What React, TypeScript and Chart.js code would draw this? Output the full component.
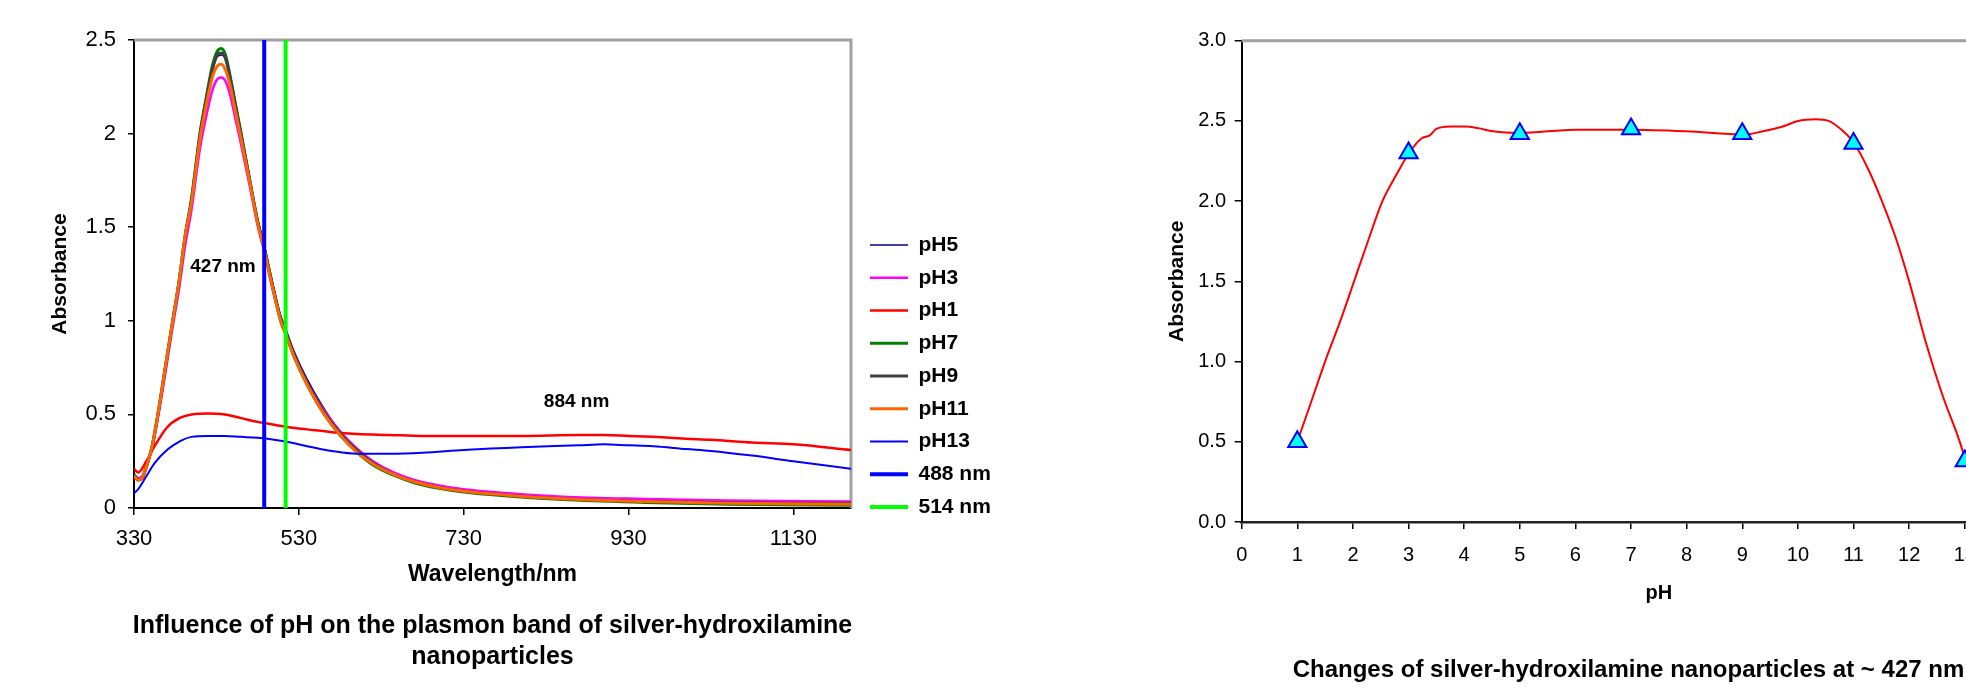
import React, { useEffect, useRef } from 'react';
import { Chart, registerables } from 'chart.js';

Chart.register(...registerables);

const FAMILY = '"Liberation Sans", Arial, Helvetica, sans-serif';

// ---------- Left chart: spectra ----------
const peakWavelengths = [330, 335, 340, 345, 352, 359, 368, 377, 385, 392, 400, 410, 418, 425, 431, 436, 441, 447, 453, 460, 470, 480, 488, 497, 508, 514, 525, 540, 561, 580, 600, 620, 645, 670, 700, 730, 780, 850, 950, 1050, 1200];
const absPH5 = [0.17, 0.15, 0.16, 0.22, 0.33, 0.5, 0.74, 0.99, 1.21, 1.44, 1.64, 1.98, 2.18, 2.33, 2.41, 2.42, 2.4, 2.3, 2.17, 2.01, 1.78, 1.55, 1.41, 1.23, 1.03, 0.96, 0.83, 0.69, 0.53, 0.41, 0.32, 0.245, 0.185, 0.145, 0.115, 0.095, 0.075, 0.055, 0.04, 0.03, 0.027];
const absPH3 = [0.18, 0.16, 0.17, 0.22, 0.32, 0.48, 0.72, 0.97, 1.18, 1.4, 1.6, 1.92, 2.1, 2.23, 2.29, 2.3, 2.28, 2.2, 2.08, 1.94, 1.73, 1.51, 1.37, 1.19, 1.0, 0.93, 0.81, 0.67, 0.52, 0.41, 0.32, 0.25, 0.19, 0.15, 0.12, 0.1, 0.08, 0.06, 0.048, 0.04, 0.035];
const absPH7 = [0.18, 0.15, 0.16, 0.22, 0.33, 0.5, 0.75, 1.0, 1.22, 1.45, 1.66, 2.0, 2.2, 2.36, 2.44, 2.455, 2.42, 2.3, 2.16, 2.0, 1.76, 1.53, 1.39, 1.21, 1.0, 0.93, 0.8, 0.66, 0.5, 0.39, 0.3, 0.23, 0.175, 0.135, 0.105, 0.085, 0.065, 0.045, 0.03, 0.02, 0.015];
const absPH9 = [0.17, 0.15, 0.16, 0.22, 0.33, 0.5, 0.75, 1.0, 1.22, 1.45, 1.65, 1.99, 2.19, 2.34, 2.42, 2.43, 2.4, 2.29, 2.15, 1.99, 1.76, 1.53, 1.39, 1.21, 1.01, 0.94, 0.81, 0.67, 0.51, 0.4, 0.31, 0.24, 0.18, 0.14, 0.11, 0.09, 0.07, 0.05, 0.035, 0.028, 0.025];
const absPH11 = [0.17, 0.15, 0.16, 0.22, 0.33, 0.5, 0.75, 1.0, 1.22, 1.45, 1.64, 1.97, 2.16, 2.3, 2.36, 2.37, 2.34, 2.25, 2.12, 1.97, 1.75, 1.52, 1.38, 1.2, 1.0, 0.93, 0.8, 0.66, 0.5, 0.39, 0.3, 0.235, 0.18, 0.14, 0.11, 0.09, 0.07, 0.05, 0.035, 0.025, 0.02];

const broadWavelengths = [330, 335, 345, 355, 370, 385, 400, 420, 440, 460, 480, 500, 520, 540, 570, 600, 640, 680, 730, 800, 870, 900, 930, 960, 1000, 1030, 1080, 1130, 1200];
const absPH1 = [0.21, 0.19, 0.25, 0.33, 0.43, 0.48, 0.5, 0.505, 0.5, 0.48, 0.46, 0.445, 0.43, 0.42, 0.405, 0.395, 0.39, 0.385, 0.385, 0.385, 0.39, 0.39, 0.385, 0.38, 0.37, 0.365, 0.35, 0.34, 0.31];
const absPH13 = [0.08, 0.1, 0.17, 0.24, 0.31, 0.355, 0.38, 0.385, 0.385, 0.38, 0.375, 0.365, 0.35, 0.33, 0.305, 0.29, 0.29, 0.295, 0.31, 0.325, 0.335, 0.34, 0.335, 0.33, 0.315, 0.305, 0.28, 0.25, 0.21];

const laserWavelengths = [488, 514];
const laserSpan = [0, 2.5];
const wavelengthTicks = [330, 530, 730, 930, 1130];

// ---------- Right chart: absorbance vs pH ----------
const phValues = [1, 3, 5, 7, 9, 11, 13];
const absAt427 = [0.5, 2.3, 2.42, 2.45, 2.42, 2.36, 0.38];
const fitPH = [1.0, 1.27, 1.52, 1.77, 2.02, 2.27, 2.53, 2.79, 3.01, 3.23, 3.38, 3.5, 3.75, 4.0, 4.25, 4.52, 5.0, 6.0, 7.0, 8.0, 9.03, 9.37, 9.73, 10.0, 10.32, 10.55, 10.8, 10.99, 11.25, 11.5, 11.76, 12.0, 12.3, 12.6, 12.9, 13.0];
const fitAbs = [0.5, 0.77, 1.02, 1.25, 1.5, 1.75, 2.0, 2.17, 2.3, 2.39, 2.41, 2.45, 2.465, 2.465, 2.455, 2.435, 2.425, 2.445, 2.445, 2.435, 2.415, 2.435, 2.465, 2.5, 2.51, 2.5, 2.44, 2.37, 2.21, 2.01, 1.77, 1.5, 1.12, 0.79, 0.51, 0.4];

const leftNotes = [
  { text: '427 nm', x: 438, y: 1.29 },
  { text: '884 nm', x: 867, y: 0.566 },
];
const leftTitle = ['Influence of pH on the plasmon band of silver-hydroxilamine', 'nanoparticles'];
const rightTitle = 'Changes of silver-hydroxilamine nanoparticles at ~ 427 nm';

const zip = (xs: number[], ys: number[]) => xs.map((x, i) => ({ x, y: ys[i] }));

function buildLeft(canvas: HTMLCanvasElement) {
  const series = [
    { label: 'pH5', xs: peakWavelengths, ys: absPH5, color: '#000080', width: 1.3 },
    { label: 'pH3', xs: peakWavelengths, ys: absPH3, color: '#ff00ff', width: 2.5 },
    { label: 'pH1', xs: broadWavelengths, ys: absPH1, color: '#ff0000', width: 2.5 },
    { label: 'pH7', xs: peakWavelengths, ys: absPH7, color: '#008000', width: 3 },
    { label: 'pH9', xs: peakWavelengths, ys: absPH9, color: '#404040', width: 3 },
    { label: 'pH11', xs: peakWavelengths, ys: absPH11, color: '#ff6600', width: 3 },
    { label: 'pH13', xs: broadWavelengths, ys: absPH13, color: '#0000ff', width: 2 },
  ];
  const laserStyle = [
    { label: '488 nm', color: '#0000ff' },
    { label: '514 nm', color: '#00ff00' },
  ];
  const datasets: any[] = series.map((s) => ({
    label: s.label,
    data: zip(s.xs, s.ys),
    borderColor: s.color,
    backgroundColor: s.color,
    borderWidth: s.width,
    pointRadius: 0,
    fill: false,
    cubicInterpolationMode: 'monotone',
  }));
  laserWavelengths.forEach((w, i) => {
    datasets.push({
      label: laserStyle[i].label,
      data: laserSpan.map((y) => ({ x: w, y })),
      borderColor: laserStyle[i].color,
      backgroundColor: laserStyle[i].color,
      borderWidth: 4,
      pointRadius: 0,
      fill: false,
    });
  });
  const n = datasets.length;
  datasets.forEach((d, i) => (d.order = n - i));

  const decor = {
    id: 'leftDecor',
    afterLayout(chart: any) {
      const lg = chart.legend;
      if (lg) {
        lg.left += 7.25;
        lg.right += 90;
        lg.width = lg.right - lg.left;
        lg.top += 9;
        lg.bottom += 9;
      }
    },
    beforeDatasetsDraw(chart: any) {
      const { ctx, chartArea: a } = chart;
      ctx.save();
      ctx.strokeStyle = '#a0a0a0';
      ctx.lineWidth = 3;
      ctx.beginPath();
      ctx.moveTo(a.left, a.top);
      ctx.lineTo(a.right, a.top);
      ctx.lineTo(a.right, a.bottom);
      ctx.stroke();
      ctx.restore();
    },
    afterDraw(chart: any) {
      const { ctx, chartArea: a, scales } = chart;
      ctx.save();
      ctx.fillStyle = '#000';
      ctx.textAlign = 'center';
      ctx.textBaseline = 'middle';
      ctx.font = `bold 19px ${FAMILY}`;
      leftNotes.forEach((nt) => {
        ctx.fillText(nt.text, scales.x.getPixelForValue(nt.x), scales.y.getPixelForValue(nt.y));
      });
      ctx.font = `bold 25px ${FAMILY}`;
      const cx = (a.left + a.right) / 2;
      leftTitle.forEach((line, i) => ctx.fillText(line, cx, a.bottom + 118 + i * 31));
      ctx.restore();
    },
  };

  return new Chart(canvas, {
    type: 'line',
    data: { datasets },
    options: {
      animation: false,
      responsive: false,
      events: [],
      layout: { padding: { top: 40, right: 39, bottom: 0, left: 0 } },
      scales: {
        x: {
          type: 'linear',
          min: 330,
          max: 1200,
          afterBuildTicks: (s: any) => {
            s.ticks = wavelengthTicks.map((v) => ({ value: v }));
          },
          afterFit: (s: any) => {
            s.height = 186;
          },
          grid: { drawOnChartArea: false, drawTicks: true, tickLength: 7, color: '#000', lineWidth: 1.5 },
          border: { display: true, color: '#000', width: 2 },
          ticks: { color: '#000', font: { size: 22, family: FAMILY }, padding: 11, maxRotation: 0, autoSkip: false, callback: (v: any) => String(v) },
          title: { display: true, text: 'Wavelength/nm', color: '#000', font: { size: 23, weight: 'bold', family: FAMILY }, padding: { top: 0, bottom: 106 } },
        },
        y: {
          type: 'linear',
          min: 0,
          max: 2.5,
          afterFit: (s: any) => {
            s.width = 134;
          },
          grid: { drawOnChartArea: false, drawTicks: true, tickLength: 6, color: '#000', lineWidth: 1.5 },
          border: { display: true, color: '#000', width: 2 },
          ticks: { stepSize: 0.5, color: '#000', font: { size: 22, family: FAMILY }, padding: 12, callback: (v: any) => String(v) },
          title: { display: true, text: 'Absorbance', color: '#000', font: { size: 21, weight: 'bold', family: FAMILY }, padding: { top: 48, bottom: 0 } },
        },
      },
      plugins: {
        tooltip: { enabled: false },
        legend: {
          display: true,
          position: 'right',
          maxWidth: 120,
          labels: {
            usePointStyle: true,
            pointStyle: 'line',
            pointStyleWidth: 38,
            padding: 11.75,
            color: '#000',
            font: { size: 21, weight: 'bold', family: FAMILY },
            sort: (a: any, b: any) => a.datasetIndex - b.datasetIndex,
          },
        },
      },
    } as any,
    plugins: [decor],
  });
}

function buildRight(canvas: HTMLCanvasElement) {
  const decor = {
    id: 'rightDecor',
    beforeDatasetsDraw(chart: any) {
      const { ctx, chartArea: a } = chart;
      ctx.save();
      ctx.strokeStyle = '#a0a0a0';
      ctx.lineWidth = 3;
      ctx.beginPath();
      ctx.moveTo(a.left, a.top);
      ctx.lineTo(a.right, a.top);
      ctx.lineTo(a.right, a.bottom);
      ctx.stroke();
      ctx.restore();
    },
    afterDraw(chart: any) {
      const { ctx, chartArea: a } = chart;
      ctx.save();
      ctx.fillStyle = '#000';
      ctx.textAlign = 'left';
      ctx.textBaseline = 'middle';
      ctx.font = `bold 24px ${FAMILY}`;
      ctx.fillText(rightTitle, a.left + 51, a.bottom + 148);
      ctx.restore();
    },
  };

  return new Chart(canvas, {
    type: 'line',
    data: {
      datasets: [
        {
          label: 'Absorbance at 427 nm',
          data: zip(phValues, absAt427),
          showLine: false,
          pointStyle: 'triangle',
          pointRadius: 10.5,
          pointBackgroundColor: '#00ffff',
          pointBorderColor: '#0000ff',
          pointBorderWidth: 2,
          order: 1,
        },
        {
          label: 'Trend',
          data: zip(fitPH, fitAbs),
          borderColor: '#ff0000',
          borderWidth: 2,
          pointRadius: 0,
          fill: false,
          cubicInterpolationMode: 'monotone',
          order: 2,
        },
      ],
    },
    options: {
      animation: false,
      responsive: false,
      events: [],
      layout: { padding: { top: 40.7, right: 124, bottom: 0, left: 0 } },
      scales: {
        x: {
          type: 'linear',
          min: 0,
          max: 15,
          afterFit: (s: any) => {
            s.height = 172;
          },
          grid: { drawOnChartArea: false, drawTicks: true, tickLength: 7, color: '#000', lineWidth: 1.5 },
          border: { display: true, color: '#222', width: 2.5 },
          ticks: { stepSize: 1, color: '#000', font: { size: 20, family: FAMILY }, padding: 14, maxRotation: 0, autoSkip: false, callback: (v: any) => String(v) },
          title: { display: true, text: 'pH', color: '#000', font: { size: 20, weight: 'bold', family: FAMILY }, padding: { top: 0, bottom: 89 } },
        },
        y: {
          type: 'linear',
          min: 0,
          max: 3,
          afterFit: (s: any) => {
            s.width = 141.7;
          },
          grid: { drawOnChartArea: false, drawTicks: true, tickLength: 7, color: '#000', lineWidth: 1.5 },
          border: { display: true, color: '#000', width: 2 },
          ticks: { stepSize: 0.5, color: '#000', font: { size: 20, family: FAMILY }, padding: 8.7, callback: (v: any) => Number(v).toFixed(1) },
          title: { display: true, text: 'Absorbance', color: '#000', font: { size: 21, weight: 'bold', family: FAMILY }, padding: { top: 64.4, bottom: 0 } },
        },
      },
      plugins: {
        tooltip: { enabled: false },
        legend: { display: false },
      },
    } as any,
    plugins: [decor],
  });
}

export default function App() {
  const leftRef = useRef<HTMLCanvasElement>(null);
  const rightRef = useRef<HTMLCanvasElement>(null);

  useEffect(() => {
    const left = buildLeft(leftRef.current as HTMLCanvasElement);
    const right = buildRight(rightRef.current as HTMLCanvasElement);
    return () => {
      left.destroy();
      right.destroy();
    };
  }, []);

  return (
    <div style={{ position: 'fixed', left: 0, top: 0, width: 1966, height: 694, overflow: 'hidden', background: '#fff' }}>
      <canvas ref={leftRef} width={1010} height={694} style={{ position: 'absolute', left: 0, top: 0, width: 1010, height: 694 }} />
      <canvas ref={rightRef} width={1100} height={694} style={{ position: 'absolute', left: 1100, top: 0, width: 1100, height: 694 }} />
    </div>
  );
}
